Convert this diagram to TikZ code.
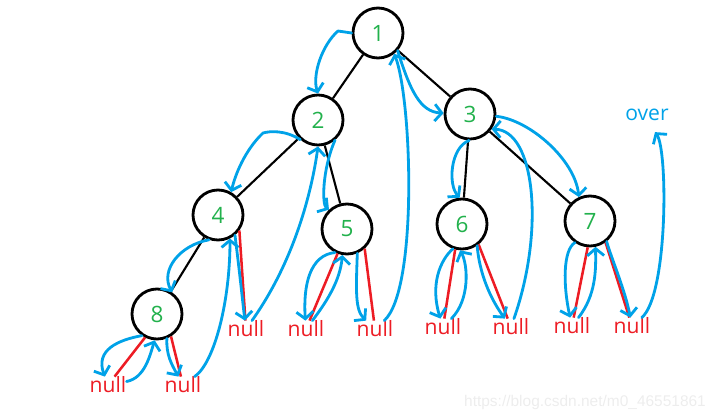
\documentclass[tikz,border=0pt]{standalone}
\usepackage{fontspec}
\setmainfont{Open Sans}
\newfontfamily\markfont{Liberation Sans}
\usetikzlibrary{arrows.meta}
\definecolor{paintblue}{HTML}{00A2E8}
\definecolor{paintgreen}{HTML}{22B14C}
\definecolor{paintred}{HTML}{ED1C24}

\begin{document}
\begin{tikzpicture}[x=0.025cm, y=-0.025cm, >={Straight Barb[length=5pt,width=12pt]},
  vtx/.style={circle, draw, line width=2pt, minimum size=1.25cm, inner sep=0pt,
    text=paintgreen, font=\fontsize{16}{18}\selectfont},
  nil/.style={text=paintred, inner sep=0pt, font=\fontsize{15}{18}\selectfont},
  edge/.style={line width=1.5pt},
  nilline/.style={paintred, line width=1.8pt},
  trav/.style={paintblue, line width=2pt, ->, line cap=round, line join=round}]
  \useasboundingbox (0,0) rectangle (716,420);

  % Tree nodes
  \node[vtx] (v1) at (378,33) {1};
  \node[vtx] (v2) at (318,120) {2};
  \node[vtx] (v3) at (470,114) {3};
  \node[vtx] (v4) at (218,215) {4};
  \node[vtx] (v5) at (347,229) {5};
  \node[vtx] (v6) at (462,224) {6};
  \node[vtx] (v7) at (590,221) {7};
  \node[vtx] (v8) at (157,314) {8};

  % Tree edges
  \draw[edge] (v1) -- (v2);
  \draw[edge] (v1) -- (v3);
  \draw[edge] (v2) -- (v4);
  \draw[edge] (v2) -- (v5);
  \draw[edge] (v3) -- (v6);
  \draw[edge] (v3) -- (v7);
  \draw[edge] (v4) -- (v8);

  % Empty children
  \node[nil] (n4r) at (246,329) {null};
  \node[nil] (n5l) at (306,329) {null};
  \node[nil] (n5r) at (375,329) {null};
  \node[nil] (n6l) at (443,327) {null};
  \node[nil] (n6r) at (511,327) {null};
  \node[nil] (n7l) at (572,326) {null};
  \node[nil] (n7r) at (632,326) {null};
  \node[nil] (n8l) at (108,385) {null};
  \node[nil] (n8r) at (183,385) {null};
  \node[text=paintblue, inner sep=0pt, font=\fontsize{15}{18}\selectfont] (ov) at (647,115) {over};

  % Red links to null
  \draw[nilline] (v4.-36) -- ([shift={(17,-31)}]n4r);
  \draw[nilline] (v8.243) -- ([shift={(12,-14)}]n8l);
  \draw[nilline] (v8.-58) -- ([shift={(2,-12)}]n8r);
  \draw[nilline] (v5.249) -- ([shift={(1,-34)}]n5l);
  \draw[nilline] (v5.-48) -- ([shift={(11,-21)}]n5r);
  \draw[nilline] (v6.255) -- ([shift={(-9,-27)}]n6l);
  \draw[nilline] (v6.-51) -- ([shift={(-3,-25)}]n6r);
  \draw[nilline] (v7.265) -- ([shift={(-5,-21)}]n7l);
  \draw[nilline] (v7.-54) -- ([shift={(5,-24)}]n7r);

  % Traversal path
  \draw[trav] (v1.west) -- (338,31) .. controls (322,45) and (312,75) .. (v2.north);
  \draw[trav] (v2.228) .. controls (285,130) and (270,131) .. (263,133)
    .. controls (245,150) and (235,175) .. (v4.60);
  \draw[trav] (v4.250) .. controls (180,245) and (160,270) .. (v8.55);
  \draw[trav] (v8.235) .. controls (118,340) and (95,350) .. ([shift={(-13,-8)}]n8l);
  \draw[trav] ([shift={(22,-3)}]n8l) .. controls (145,378) and (150,355) .. (v8.265);
  \draw[trav] (v8.292) .. controls (166,355) and (172,365) .. ([shift={(-11,-7)}]n8r);
  \draw[trav] ([shift={(7,-10)}]n8r) .. controls (215,362) and (230,300) .. (v4.297);
  \draw[trav] (v4.-50) .. controls (240,275) and (243,305) .. ([shift={(12,-19)}]n4r);
  \draw[trav] ([shift={(24,-16)}]n4r) .. controls (295,260) and (312,190) .. (v2.270);
  \draw[trav] (v2.-50) .. controls (322,170) and (322,205) .. (v5.133);
  \draw[trav] (v5.243) .. controls (310,255) and (303,285) .. ([shift={(-1,-18)}]n5l);
  \draw[trav] ([shift={(6,-19)}]n5l) .. controls (328,300) and (340,280) .. (v5.260);
  \draw[trav] (v5.293) .. controls (356,290) and (355,310) .. ([shift={(-2,-19)}]n5r);
  \draw[trav] ([shift={(18,-24)}]n5r) .. controls (418,290) and (412,100) .. (v1.-52);
  \draw[trav] (v1.-42) .. controls (410,90) and (420,112) .. (v3.178);
  \draw[trav] (v3.268) .. controls (450,148) and (448,185) .. (v6.95);
  \draw[trav] (v6.250) .. controls (440,260) and (430,285) .. ([shift={(-15,-20)}]n6l);
  \draw[trav] ([shift={(14,-10)}]n6l) .. controls (470,300) and (468,265) .. (v6.266);
  \draw[trav] (v6.-55) .. controls (480,280) and (495,305) .. ([shift={(6,-20)}]n6r);
  \draw[trav] ([shift={(22,-19)}]n6r) .. controls (545,230) and (535,130) .. (v3.-35);
  \draw[trav] (v3.-5) .. controls (530,120) and (575,160) .. (v7.115);
  \draw[trav] (v7.235) .. controls (563,250) and (563,285) .. ([shift={(-7,-21)}]n7l);
  \draw[trav] ([shift={(16,-13)}]n7l) .. controls (596,295) and (596,270) .. (v7.282);
  \draw[trav] (v7.-51) .. controls (612,260) and (625,290) .. ([shift={(0,-20)}]n7r);
  \draw[trav] ([shift={(13,-14)}]n7r) .. controls (668,295) and (668,150) .. ([shift={(8,11)}]ov.south);

  % Watermark
  \node[text=black!7, inner sep=0pt, font=\markfont\fontsize{11}{13}\selectfont] (wm) at (585,402)
    {https://blog.csdn.net/m0\_46551861};
\end{tikzpicture}
\end{document}
